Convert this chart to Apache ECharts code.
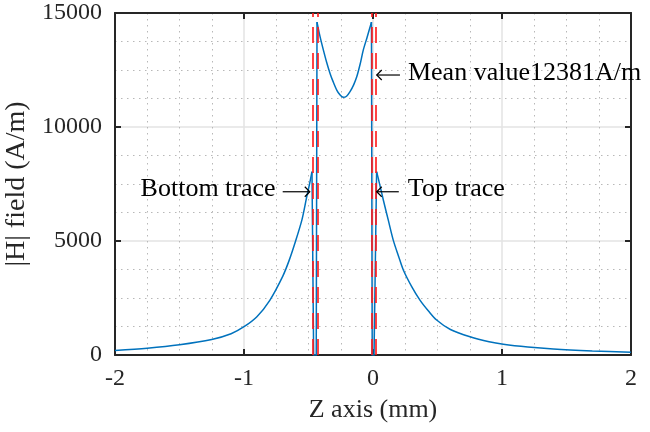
<!DOCTYPE html>
<html>
<head>
<meta charset="utf-8">
<script src="https://cdn.jsdelivr.net/npm/echarts@6/dist/echarts.min.js"></script>
<style>
  html, body { margin: 0; padding: 0; background: #fff; }
  #main { width: 650px; height: 432px; }
</style>
</head>
<body>
<div id="main"></div>
<script>
// outer field, left of the bottom trace
const zLeft = [-2.0, -1.75, -1.5, -1.25, -1.1, -1.0, -0.9, -0.8, -0.7, -0.65, -0.6, -0.55, -0.515, -0.49, -0.473]
const hLeft = [200, 300, 450, 680, 930, 1240, 1680, 2400, 3450, 4150, 5000, 5950, 6900, 7550, 8040]
// field between the two traces
const zInner = [-0.434, -0.41, -0.385, -0.36, -0.333, -0.31, -0.281, -0.255, -0.23, -0.205, -0.178, -0.15, -0.126, -0.1, -0.075, -0.045, -0.012]
const hInner = [14600, 13950, 13380, 12850, 12350, 12000, 11620, 11400, 11300, 11350, 11550, 11850, 12200, 12750, 13380, 13950, 14600]
// outer field, right of the top trace
const zRight = [0.028, 0.05, 0.08, 0.12, 0.157, 0.2, 0.235, 0.3, 0.364, 0.43, 0.493, 0.6, 0.752, 0.9, 1.01, 1.2, 1.398, 1.7, 2.0]
const hRight = [8040, 7530, 6800, 5880, 5040, 4300, 3730, 3000, 2410, 1930, 1535, 1120, 800, 580, 470, 350, 263, 180, 120]
// field drop inside each trace
const wallBottom = [[-0.473, 8040], [-0.46, 0], [-0.44, 0], [-0.434, 14600]]
const wallTop = [[-0.012, 14600], [-0.006, 0], [0.008, 0], [0.028, 8040]]
// trace edges (red dashed)
const traceEdges = [-0.473, -0.434, -0.010, 0.023]
const xTicks = { min: -2, max: 2, step: 1 }
const yTicks = { min: 0, max: 15000, step: 5000 }

const serif = 'Liberation Serif'
const axisColor = '#262626'
const blue = '#0072BD'

const toPairs = (zs, hs) => zs.map((z, i) => [z, hs[i]])

const boxAxis = (extra) => Object.assign({
  type: 'value',
  axisLine: { show: true, onZero: false, lineStyle: { color: axisColor, width: 2 } },
  axisTick: { show: true, inside: true, length: 6, lineStyle: { color: axisColor, width: 2 } },
  axisLabel: { show: false },
  splitLine: { show: false }
}, extra)

const curve = data => ({
  type: 'line',
  data,
  showSymbol: false,
  symbol: 'none',
  smooth: 0.3,
  lineStyle: { color: blue, width: 1.5 },
  z: 3
})

const chart = echarts.init(document.getElementById('main'), null, { renderer: 'canvas' })

const option = {
  animation: false,
  backgroundColor: '#fff',
  grid: { left: 115, right: 19, top: 13, bottom: 77, containLabel: false, outerBoundsMode: 'none' },
  xAxis: [
    boxAxis({
      min: xTicks.min, max: xTicks.max, interval: xTicks.step, position: 'bottom',
      name: 'Z axis (mm)', nameLocation: 'middle', nameGap: 42,
      nameTextStyle: { fontFamily: serif, fontSize: 26, color: axisColor },
      axisLabel: { show: true, fontFamily: serif, fontSize: 24, color: axisColor, margin: 12, formatter: v => String(v) },
      splitLine: { show: true, lineStyle: { color: '#e3e3e3', width: 1.5 } },
      minorTick: { show: false, splitNumber: 4 },
      minorSplitLine: { show: true, lineStyle: { color: '#b8b8b8', width: 1, type: [1.5, 4.5] } }
    }),
    boxAxis({ min: xTicks.min, max: xTicks.max, interval: xTicks.step, position: 'top' })
  ],
  yAxis: [
    boxAxis({
      min: yTicks.min, max: yTicks.max, interval: yTicks.step, position: 'left',
      name: '|H| field (A/m)', nameLocation: 'middle', nameGap: 82,
      nameTextStyle: { fontFamily: serif, fontSize: 28, color: axisColor },
      axisLabel: { show: true, fontFamily: serif, fontSize: 24, color: axisColor, margin: 13, formatter: v => String(v) },
      splitLine: { show: true, lineStyle: { color: '#e3e3e3', width: 1.5 } },
      minorTick: { show: false, splitNumber: 4 },
      minorSplitLine: { show: true, lineStyle: { color: '#b8b8b8', width: 1, type: [1.5, 4.5] } }
    }),
    boxAxis({ min: yTicks.min, max: yTicks.max, interval: yTicks.step, position: 'right' })
  ],
  series: [
    curve(toPairs(zLeft, hLeft)),
    curve(toPairs(zInner, hInner)),
    curve(toPairs(zRight, hRight)),
    {
      type: 'lines',
      coordinateSystem: 'cartesian2d',
      polyline: true,
      silent: true,
      lineStyle: { color: blue, width: 1.5, opacity: 1 },
      data: [{ coords: wallBottom }, { coords: wallTop }],
      z: 3
    },
    {
      type: 'line',
      data: [],
      markLine: {
        silent: true,
        symbol: ['none', 'none'],
        label: { show: false },
        lineStyle: { color: '#ff1a1a', width: 1.8, type: [16, 10], opacity: 0.9 },
        data: traceEdges.map(v => ({ xAxis: v }))
      },
      z: 4
    }
  ]
}
chart.setOption(option)

// text annotations with arrows, anchored on data coords
const notes = [
  { text: 'Mean value12381A/m', head: [0.029, 12280], tail: [0.209, 12280], textAt: [0.271, 12380], align: 'left' },
  { text: 'Top trace', head: [0.029, 7160], tail: [0.2, 7160], textAt: [0.27, 7260], align: 'left' },
  { text: 'Bottom trace', head: [-0.49, 7160], tail: [-0.7, 7160], textAt: [-0.755, 7260], align: 'right' }
]
const px = p => chart.convertToPixel({ xAxisIndex: 0, yAxisIndex: 0 }, p)
const graphic = []
notes.forEach(n => {
  const h = px(n.head)
  const t = px(n.tail)
  const s = px(n.textAt)
  const dir = t[0] > h[0] ? 1 : -1
  graphic.push({ type: 'polyline', shape: { points: [t, h] }, style: { stroke: '#000', lineWidth: 1.2, fill: null }, z: 10 })
  graphic.push({ type: 'polyline', shape: { points: [[h[0] + dir * 5, h[1] - 5], h, [h[0] + dir * 5, h[1] + 5]] }, style: { stroke: '#000', lineWidth: 1.2, fill: null }, z: 10 })
  graphic.push({
    type: 'text', x: s[0], y: s[1], z: 10,
    style: { text: n.text, fontFamily: serif, fontSize: 26, fill: '#000', align: n.align, verticalAlign: 'middle' }
  })
})
chart.setOption({ graphic })
</script>
</body>
</html>
